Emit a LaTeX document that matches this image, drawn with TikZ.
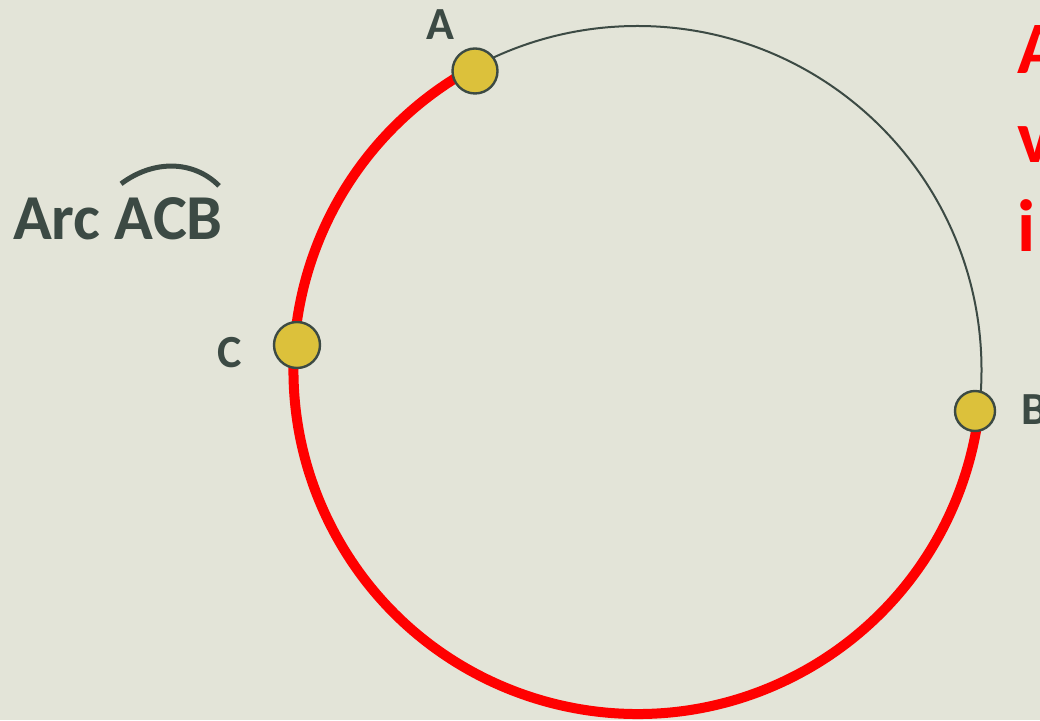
\documentclass[tikz,border=0pt]{standalone}
\usepackage{fontspec}
\setmainfont{Carlito}
\usetikzlibrary{calc}
\definecolor{board}{HTML}{E3E4D8}
\definecolor{ink}{HTML}{3C4A44}
\definecolor{dotfill}{HTML}{DCC13B}
\definecolor{hilite}{HTML}{FF0000}
\tikzset{
  rim/.style={draw=ink, line width=2pt},
  arcpart/.style={draw=hilite, line width=10pt},
  ptdot/.style={circle, draw=ink, line width=2.4pt, fill=dotfill, inner sep=0pt},
  ptlabel/.style={font=\fontsize{46}{50}\selectfont\bfseries, text=ink, inner sep=0pt},
  heading/.style={font=\fontsize{64}{70}\selectfont\bfseries, text=ink, inner sep=0pt, anchor=base west},
  sidenote/.style={font=\fontsize{74}{89}\selectfont\bfseries, text=hilite, inner sep=0pt, anchor=north west, align=left}
}

\begin{document}
\begin{tikzpicture}[x=1pt,y=1pt]
\fill[board] (0,0) rectangle (1040,720);
\useasboundingbox (0,0) rectangle (1040,720);

\coordinate (ctr) at (637.5,350);

% the circle and the highlighted arc
\draw[rim] (ctr) circle[radius=344];
\draw[arcpart] (ctr) ++(118.5:344) arc[start angle=118.5, end angle=350.2, radius=344];

% points on the circle
\node[ptdot, minimum size=45pt] (ptA) at (475,649) {};
\node[ptdot, minimum size=46pt] (ptC) at (297,375) {};
\node[ptdot, minimum size=40pt] (ptB) at (975,309) {};

\node[ptlabel] (labA) at (440,695) {A};
\node[ptlabel] (labC) at (230,367) {C};
\node[ptlabel, anchor=west] (labB) at (1021,310) {B};

% arc name
\node[heading] (title) at (13,480) {Arc ACB};
\draw[ink, line width=5pt] ($(title.north east)+(-102,14)$) .. controls ($(title.north east)+(-70,38)$) and ($(title.north east)+(-30,38)$) .. ($(title.north east)+(-4,12)$);

% text running off the right edge
\node[sidenote] (note) at (1017,695) {A\\v\\i};
\end{tikzpicture}
\end{document}
